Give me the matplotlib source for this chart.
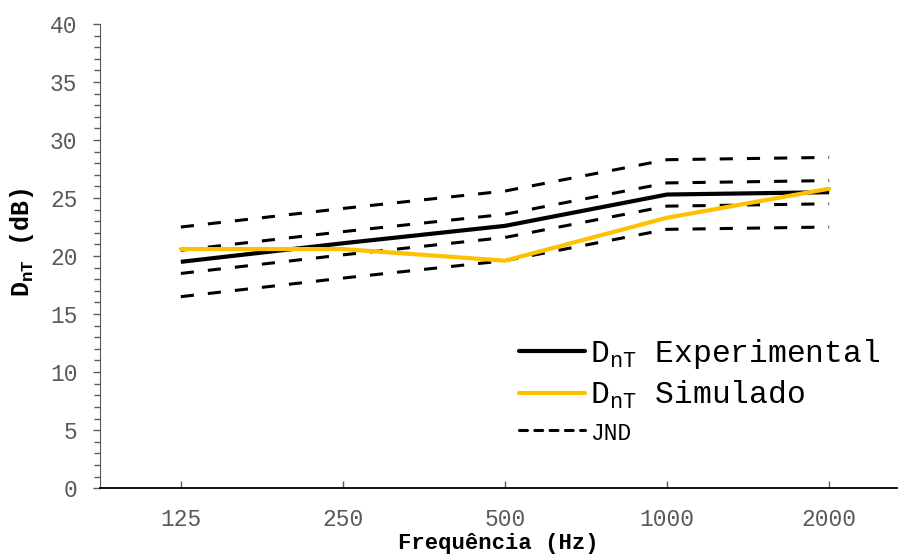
import numpy as np
import matplotlib
matplotlib.use("Agg")
import matplotlib.pyplot as plt
from matplotlib.ticker import MultipleLocator
from matplotlib.lines import Line2D

plt.rcParams['font.family'] = ['Liberation Mono', 'DejaVu Sans']
plt.rcParams['mathtext.fontset'] = 'custom'
plt.rcParams['mathtext.rm'] = 'Liberation Mono'

freqs = ['125', '250', '500', '1000', '2000']
dnt_exp = [19.5, 21.1, 22.6, 25.3, 25.5]
dnt_sim = [20.6, 20.6, 19.6, 23.3, 25.8]
jnd_offsets = [3, 1, -1, -3]

x = np.arange(len(freqs))
grey = '#595959'
gold = '#FFC000'

fig = plt.figure(figsize=(8.99, 5.56), dpi=100)
ax = fig.add_axes([0.111, 0.122, 0.887, 0.835])

for off in jnd_offsets:
    ax.plot(x, np.array(dnt_exp) + off, color='black', lw=2.2,
            linestyle=(0, (4.3, 4.6)), dash_capstyle='butt')
ax.plot(x, dnt_exp, color='black', lw=3.0, solid_capstyle='butt')
ax.plot(x, dnt_sim, color=gold, lw=3.0, solid_capstyle='round')

ax.set_xlim(-0.5, 4.42)
ax.set_ylim(0, 40)
ax.set_xticks(x)
ax.set_xticklabels(freqs)
ax.yaxis.set_major_locator(MultipleLocator(5))
ax.yaxis.set_minor_locator(MultipleLocator(1))

for s in ['top', 'right']:
    ax.spines[s].set_visible(False)
ax.spines['left'].set_color(grey)
ax.spines['bottom'].set_color('black')
ax.spines['bottom'].set_linewidth(1.3)

ax.tick_params(axis='y', which='major', direction='out', length=5, width=1,
               color=grey, labelcolor=grey, labelsize=16.5, pad=11)
ax.tick_params(axis='y', which='minor', direction='out', length=4, width=1,
               color=grey)
ax.tick_params(axis='x', direction='in', length=5, width=1, color=grey,
               labelcolor=grey, labelsize=16.5, pad=14)

ax.set_xlabel('Frequência (Hz)', fontsize=16, fontweight='bold', labelpad=2)
ax.set_ylabel(r'$\mathregular{D_{nT}}$ (dB)', fontsize=18, fontweight='bold')
ax.yaxis.set_label_coords(-0.08, 0.53)

handles = [Line2D([], [], color='black', lw=3.0, solid_capstyle='round'),
           Line2D([], [], color=gold, lw=3.0, solid_capstyle='round'),
           Line2D([], [], color='black', lw=2.2, linestyle=(0, (2.6, 2.4)),
                  dash_capstyle='round')]
labels = [r'$\mathregular{D_{nT}}$ Experimental',
          r'$\mathregular{D_{nT}}$ Simulado',
          'JND']
leg = ax.legend(handles, labels, loc='lower right',
                bbox_to_anchor=(0.994, 0.065),
                frameon=False, fontsize=22.5, handlelength=2.1,
                handletextpad=0.15, labelspacing=0.25, borderaxespad=0.0)
leg.get_texts()[2].set_fontsize(16.5)

fig.savefig('out.png', dpi=100)
